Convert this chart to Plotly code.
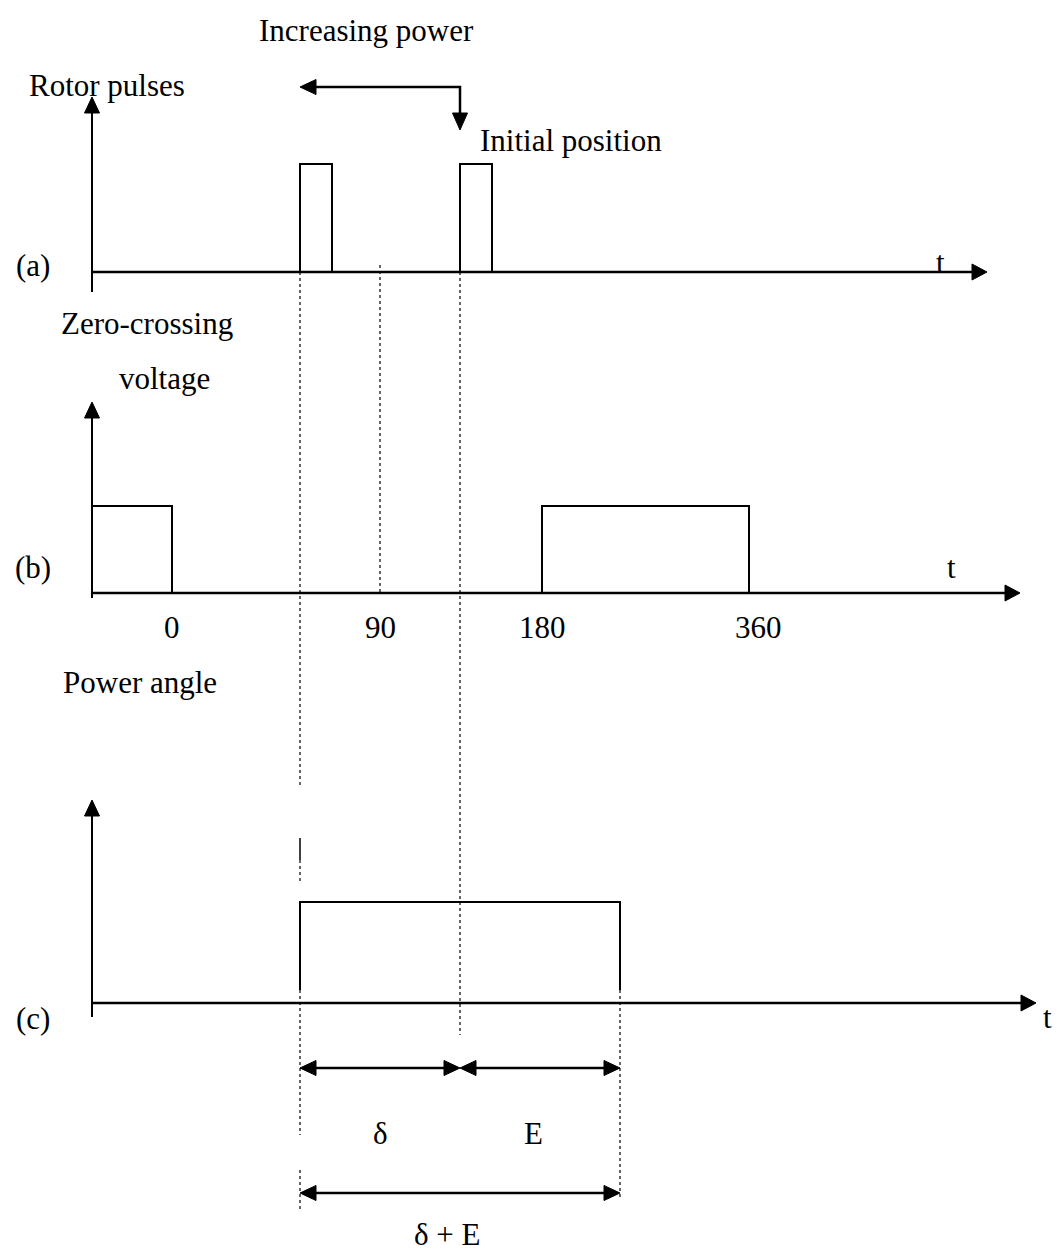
import plotly.graph_objects as go

# ---------------- diagram data (diagram units, y grows downwards) ----------------
axis_x = 92                         # common origin of the three time axes
baselines = [272, 593, 1003]        # (a), (b), (c) time-axis levels
axis_ends = [987, 1020, 1036]       # tips of the t arrows
vaxis_bottoms = [292, 598, 1017]
vaxis_tips = [97, 402, 800]

# (a) rotor pulses
a_pulse_starts = [300, 460]
a_pulse_ends = [332, 492]
a_pulse_top = 164

# (b) zero-crossing voltage
b_pulse_starts = [92, 542]
b_pulse_ends = [172, 749]
b_pulse_top = 506
angle_tick_labels = ["0", "90", "180", "360"]
angle_tick_pos = [172, 380, 542, 758]

# (c) power angle
c_start, c_mid, c_end = 300, 460, 620
c_top = 902
c_edge_bottom = 990

# dotted guide lines: x, y0, y1
guide_x = [300, 300, 300, 300, 380, 460, 620]
guide_y0 = [272, 860, 990, 1170, 265, 272, 990]
guide_y1 = [787, 882, 1135, 1212, 593, 1035, 1197]
solid_dash = (300, 838, 860)

# dimension arrows
dim_rows = [1068, 1068, 1193]
dim_from = [300, 460, 300]
dim_to = [460, 620, 620]

# "Increasing power" bent arrow
inc_path_x = [460, 460, 300]
inc_path_y = [130, 87, 87]

FONT = "Liberation Serif"
FS = 31
W, H = 1057, 1255

fig = go.Figure()


def add_line(xs, ys, width=2, dash="solid"):
    fig.add_trace(go.Scatter(x=xs, y=ys, mode="lines",
                             line=dict(color="black", width=width, dash=dash),
                             hoverinfo="skip", showlegend=False))


def add_head(tx, ty, direction, length=15, half=7.5):
    if direction == "right":
        xs = [tx, tx - length, tx - length, tx]
        ys = [ty, ty - half, ty + half, ty]
    elif direction == "left":
        xs = [tx, tx + length, tx + length, tx]
        ys = [ty, ty - half, ty + half, ty]
    elif direction == "up":
        xs = [tx, tx - half, tx + half, tx]
        ys = [ty, ty + length, ty + length, ty]
    else:  # down
        xs = [tx, tx - half, tx + half, tx]
        ys = [ty, ty - length, ty - length, ty]
    fig.add_trace(go.Scatter(x=xs, y=ys, mode="lines", fill="toself",
                             fillcolor="black", line=dict(color="black", width=1),
                             hoverinfo="skip", showlegend=False))


# axes
for base, end, vb, vt in zip(baselines, axis_ends, vaxis_bottoms, vaxis_tips):
    add_line([axis_x, end - 10], [base, base], width=2.5)
    add_head(end, base, "right", length=15, half=8)
    add_line([axis_x, axis_x], [vb, vt + 10], width=2)
    add_head(axis_x, vt, "up", length=16, half=7.5)

# dotted guides
gx, gy = [], []
for x, y0, y1 in zip(guide_x, guide_y0, guide_y1):
    gx += [x, x, None]
    gy += [y0, y1, None]
add_line(gx, gy, width=1.2, dash="dot")
add_line([solid_dash[0], solid_dash[0]], [solid_dash[1], solid_dash[2]], width=1.5)

# (a) pulses
for s, e in zip(a_pulse_starts, a_pulse_ends):
    add_line([s, s, e, e], [baselines[0], a_pulse_top, a_pulse_top, baselines[0]], width=2)

# (b) pulses
for s, e in zip(b_pulse_starts, b_pulse_ends):
    add_line([s, s, e, e], [baselines[1], b_pulse_top, b_pulse_top, baselines[1]], width=2)

# (c) power angle block
add_line([c_start, c_start, c_end, c_end], [c_edge_bottom, c_top, c_top, c_edge_bottom], width=2)

# dimension arrows
for yy, x0, x1 in zip(dim_rows, dim_from, dim_to):
    add_line([x0 + 10, x1 - 10], [yy, yy], width=2.5)
    add_head(x0, yy, "left", length=16, half=7.5)
    add_head(x1, yy, "right", length=16, half=7.5)

# increasing power arrow
add_line([inc_path_x[0], inc_path_x[1], inc_path_x[2] + 10],
         [inc_path_y[0] - 10, inc_path_y[1], inc_path_y[2]], width=2.5)
add_head(inc_path_x[2], inc_path_y[2], "left", length=16, half=7.5)
add_head(inc_path_x[0], inc_path_y[0], "down", length=17, half=7.5)

# texts
labels = [
    ("Increasing power", 366, 30),
    ("Rotor pulses", 107, 85),
    ("Initial position", 571, 140),
    ("(a)", 33, 265),
    ("t", 940, 262),
    ("Zero-crossing", 147, 323),
    ("voltage", 164, 378),
    ("(b)", 33, 567),
    ("t", 951, 567),
    ("Power angle", 140, 682),
    ("(c)", 33, 1018),
    ("t", 1047, 1017),
    ("δ", 380, 1133),
    ("E", 533, 1133),
    ("δ + E", 447, 1234),
]
for txt, x, y in labels:
    fig.add_annotation(x=x, y=y, text=txt, showarrow=False, xref="x", yref="y",
                       xanchor="center", yanchor="middle",
                       font=dict(family=FONT, size=FS, color="black"))
for lab, x in zip(angle_tick_labels, angle_tick_pos):
    fig.add_annotation(x=x, y=627, text=lab, showarrow=False, xref="x", yref="y",
                       xanchor="center", yanchor="middle",
                       font=dict(family=FONT, size=FS, color="black"))

fig.update_layout(
    width=W, height=H, margin=dict(l=0, r=0, t=0, b=0),
    paper_bgcolor="white", plot_bgcolor="white", showlegend=False,
    xaxis=dict(range=[0, W], visible=False, fixedrange=True),
    yaxis=dict(range=[H, 0], visible=False, fixedrange=True),
)

fig.write_html("out.html", config={"displayModeBar": False},
               post_script="document.body.style.margin='0';document.body.style.overflow='hidden';")
